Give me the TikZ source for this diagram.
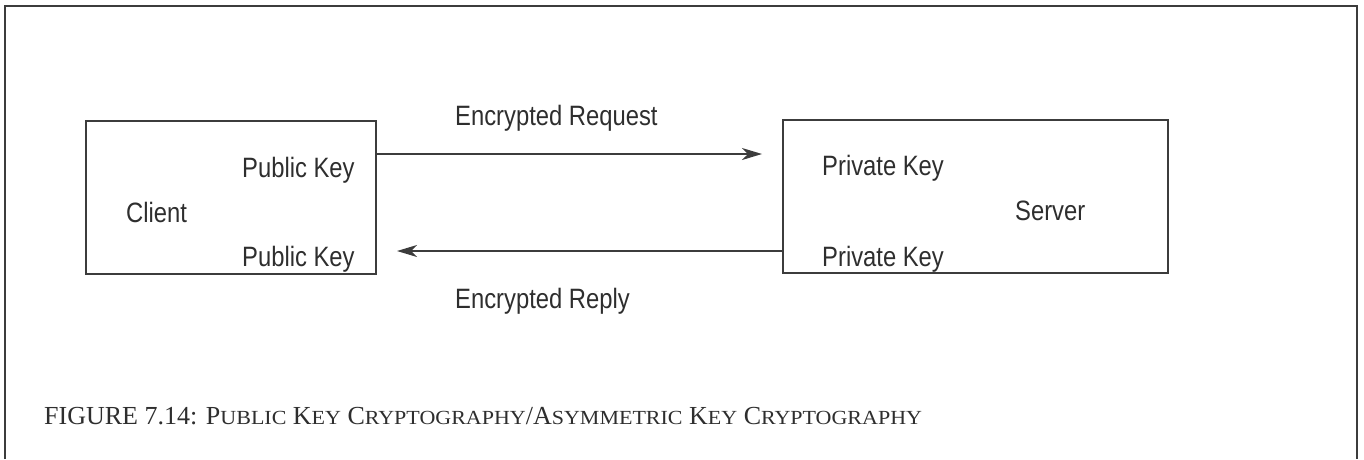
\documentclass[tikz,border=0pt]{standalone}
\usepackage{fontspec}
\usetikzlibrary{arrows.meta}
\newfontfamily\diagfont[FakeStretch=0.85]{Liberation Sans}
\newfontfamily\capfont{Liberation Serif}
\newfontfamily\capsmallfont[FakeStretch=1.1]{Liberation Serif}
\newcommand\capsmall[1]{{\capsmallfont\fontsize{20pt}{20pt}\selectfont #1}}
\definecolor{ink}{HTML}{2E2E2E}
\definecolor{rule}{HTML}{3C3C3C}
\tikzset{
  box/.style={draw=rule, line width=1.8pt, rectangle, inner sep=0pt},
  lbl/.style={anchor=base west, inner sep=0pt, text=ink, font=\diagfont\fontsize{28pt}{30pt}\selectfont},
  msg/.style={draw=rule, line width=1.4pt, -{Stealth[length=20pt,width=12pt,inset=6pt]}},
  frame/.style={draw=rule, line width=2pt}
}
\begin{document}
\begin{tikzpicture}[x=1pt, y=-1pt]
  \useasboundingbox (0,0) rectangle (1364,459);
  % open frame around the figure
  \draw[frame] (5,459) -- (5,6) -- (1357,6) -- (1357,459);

  % client and server boxes
  \node[box, minimum width=290pt, minimum height=153pt] (client) at (231,197.5) {};
  \node[box, minimum width=385pt, minimum height=153pt] (server) at (975.5,196.5) {};

  % labels inside the boxes
  \node[lbl] (clientname) at (126,222) {Client};
  \node[lbl] (pubtop) at (242,177) {Public Key};
  \node[lbl] (pubbot) at (242,266) {Public Key};
  \node[lbl] (servername) at (1015,220) {Server};
  \node[lbl] (privtop) at (822,175) {Private Key};
  \node[lbl] (privbot) at (822,266) {Private Key};

  % messages between client and server
  \coordinate (reqtip) at (762,154);
  \coordinate (reptip) at (397,251);
  \draw[msg] (client.east |- reqtip) -- (reqtip);
  \draw[msg] (server.west |- reptip) -- (reptip);
  \node[lbl] (reqlbl) at (455,125) {Encrypted Request};
  \node[lbl] (replbl) at (455,308) {Encrypted Reply};

  % caption
  \node[anchor=base west, inner sep=0pt, text=ink, font=\capfont\fontsize{26pt}{28pt}\selectfont] (caption) at (44,424)
    {FIGURE 7.14: P\capsmall{UBLIC} K\capsmall{EY} C\capsmall{RYPTOGRAPHY}/A\capsmall{SYMMETRIC} K\capsmall{EY} C\capsmall{RYPTOGRAPHY}};
\end{tikzpicture}
\end{document}
